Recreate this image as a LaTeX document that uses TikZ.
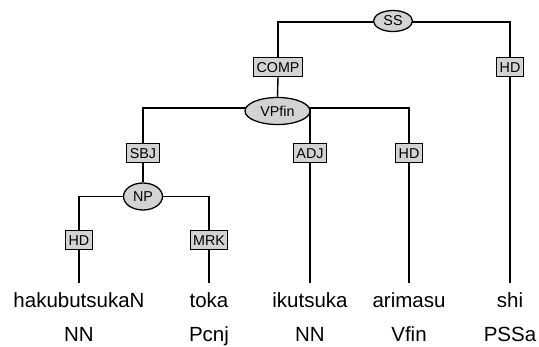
\documentclass[tikz,border=0pt]{standalone}
\usepackage{fontspec}
\setmainfont{Liberation Sans}
\usetikzlibrary{shapes.geometric,backgrounds}
\definecolor{boxgray}{HTML}{D3D3D3}
\tikzset{
  lbl/.style={draw=black, fill=boxgray, line width=0.9pt, font=\fontsize{14.3}{16}\selectfont,
    inner xsep=3pt, inner ysep=0pt, minimum height=19.5pt, text height=10.3pt, text depth=0pt},
  cat/.style={ellipse, draw=black, fill=boxgray, line width=1.3pt, inner sep=0pt,
    font=\fontsize{14.3}{16}\selectfont},
  word/.style={font=\fontsize{20.5}{24}\selectfont, inner xsep=0pt, inner ysep=9pt,
    text height=14.5pt, text depth=4.5pt, anchor=base},
  postag/.style={font=\fontsize{20.5}{24}\selectfont, inner sep=0pt, anchor=base},
  conn/.style={line width=1.4pt, draw=black}
}
\begin{document}
\begin{tikzpicture}[x=1pt,y=-1pt]
\useasboundingbox (0,0) rectangle (539,346);
% category nodes
\node[cat, minimum width=39pt, minimum height=21pt] (SS) at (393,21) {SS};
\node[cat, minimum width=65pt, minimum height=27pt] (VP) at (277.5,111) {VPfin};
\node[cat, minimum width=39pt, minimum height=27pt] (NP) at (143,196.5) {NP};
% function labels
\node[lbl] (COMP) at (278,67) {COMP};
\node[lbl] (HDa) at (510,67) {HD};
\node[lbl] (SBJ) at (143,153) {SBJ};
\node[lbl] (ADJ) at (310,153) {ADJ};
\node[lbl] (HDb) at (409,153) {HD};
\node[lbl] (HDc) at (79,240) {HD};
\node[lbl] (MRK) at (209,240) {MRK};
% words
\node[word] (w1) at (79,307) {hakubutsukaN};
\node[word] (w2) at (209,307) {toka};
\node[word] (w3) at (310,307) {ikutsuka};
\node[word] (w4) at (409,307) {arimasu};
\node[word] (w5) at (510,307) {shi};
% POS tags
\node[postag] (p1) at (79,341.5) {NN};
\node[postag] (p2) at (209,341.5) {Pcnj};
\node[postag] (p3) at (310,341.5) {NN};
\node[postag] (p4) at (409,341.5) {Vfin};
\node[postag] (p5) at (510,341.5) {PSSa};
% connectors
\begin{pgfonlayer}{background}
\draw[conn] ([yshift=-1pt]SS.center) -| (COMP.north);
\draw[conn] ([yshift=-1pt]SS.center) -| (HDa.north);
\draw[conn] (COMP.south) -- (VP.north);
\draw[conn] (HDa.south) -- (w5.north);
\draw[conn] ([yshift=3pt]VP.center) -| (SBJ.north);
\draw[conn] ([yshift=3pt]VP.center) -| (ADJ.north);
\draw[conn] ([yshift=3pt]VP.center) -| (HDb.north);
\draw[conn] (ADJ.south) -- (w3.north);
\draw[conn] (HDb.south) -- (w4.north);
\draw[conn] (SBJ.south) -- (NP.north);
\draw[conn] (NP.center) -| (HDc.north);
\draw[conn] (NP.center) -| (MRK.north);
\draw[conn] (HDc.south) -- (w1.north);
\draw[conn] (MRK.south) -- (w2.north);
\end{pgfonlayer}
\end{tikzpicture}
\end{document}
